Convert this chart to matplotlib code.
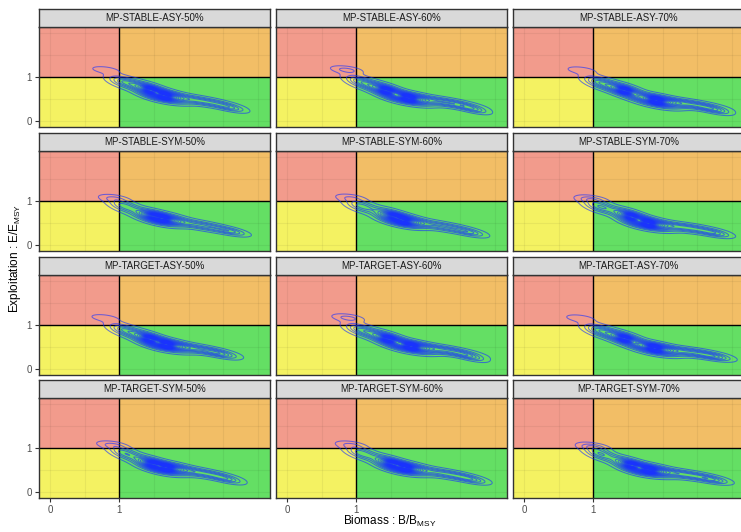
import numpy as np
import matplotlib
matplotlib.use("Agg")
import matplotlib.pyplot as plt

plt.rcParams['font.family'] = ['Liberation Sans', 'DejaVu Sans']
plt.rcParams['mathtext.fontset'] = 'custom'
plt.rcParams['mathtext.rm'] = 'Liberation Sans'
plt.rcParams['mathtext.it'] = 'Liberation Sans'

# facet labels, row by row
panels = ["MP-STABLE-ASY-50%", "MP-STABLE-ASY-60%", "MP-STABLE-ASY-70%",
          "MP-STABLE-SYM-50%", "MP-STABLE-SYM-60%", "MP-STABLE-SYM-70%",
          "MP-TARGET-ASY-50%", "MP-TARGET-ASY-60%", "MP-TARGET-ASY-70%",
          "MP-TARGET-SYM-50%", "MP-TARGET-SYM-60%", "MP-TARGET-SYM-70%"]

# ridge of the B/Bmsy - E/Emsy cloud for each MP: loop, head, two cores, mid, tail
loop_x = [0.80, 0.86, 0.83, 0.92, 0.92, 0.97, 0.79, 0.88, 0.81, 0.89, 0.92, 1.00]
loop_y = [1.16, 1.16, 1.15, 1.06, 1.07, 1.04, 1.16, 1.16, 1.15, 1.07, 1.07, 1.03]
loop_w = [0.10, 0.16, 0.10, 0.13, 0.13, 0.16, 0.10, 0.16, 0.10, 0.13, 0.13, 0.16]
head_x = [1.08, 1.08, 1.10, 1.08, 1.08, 1.10, 1.08, 1.08, 1.10, 1.08, 1.08, 1.10]
head_y = [0.88, 0.88, 0.87, 0.88, 0.88, 0.87, 0.88, 0.88, 0.87, 0.88, 0.88, 0.87]
core1_x = [1.45, 1.43, 1.45, 1.50, 1.55, 1.55, 1.44, 1.46, 1.45, 1.49, 1.52, 1.55]
core1_y = [0.70, 0.69, 0.69, 0.65, 0.64, 0.64, 0.68, 0.68, 0.69, 0.63, 0.64, 0.61]
core1_w = [0.90, 0.90, 0.85, 0.60, 0.80, 0.85, 0.90, 0.90, 0.85, 0.85, 0.80, 0.80]
core2_x = [1.65, 1.75, 1.91, 1.62, 1.67, 1.79, 1.68, 1.79, 1.88, 1.68, 1.70, 1.80]
core2_y = [0.57, 0.52, 0.46, 0.60, 0.56, 0.49, 0.55, 0.51, 0.47, 0.55, 0.55, 0.50]
mid_x = [2.20, 2.30, 2.40, 2.20, 2.25, 2.35, 2.15, 2.30, 2.40, 2.20, 2.30, 2.35]
mid_y = [0.45, 0.42, 0.38, 0.44, 0.42, 0.39, 0.45, 0.42, 0.38, 0.43, 0.41, 0.39]
tail_x = [2.58, 2.66, 2.73, 2.60, 2.62, 2.74, 2.46, 2.62, 2.74, 2.53, 2.64, 2.71]
tail_y = [0.31, 0.28, 0.26, 0.31, 0.29, 0.27, 0.34, 0.29, 0.28, 0.30, 0.29, 0.28]

node_w = [None, 0.40, None, 1.0, 0.45, 0.28]
node_along = [0.14, 0.16, 0.18, 0.20, 0.28, 0.15]
node_across = [0.05, 0.07, 0.07, 0.07, 0.055, 0.045]

# sharp modes sitting on the two cores
peak_w = [1.5, 1.8]
peak_along = 0.06
peak_across = 0.035

kobe_red = "#F29B8C"
kobe_orange = "#F2BE66"
kobe_yellow = "#F4F262"
kobe_green = "#64DF64"

W, H = 741, 532
fig = plt.figure(figsize=(W / 100, H / 100), dpi=100)
fig.patch.set_facecolor("white")

col_left = [39, 276, 513]
row_top = [27, 151, 275, 398]
pw, ph, sh = 231, 100, 18
xlim = (-0.158, 3.17)
ylim = (-0.136, 2.136)

gx = np.linspace(0.3, 3.3, 600)
gy = np.linspace(-0.2, 1.7, 450)
GX, GY = np.meshgrid(gx, gy)


def kernel(x0, y0, ang, sa, sc):
    c, s = np.cos(ang), np.sin(ang)
    u = (GX - x0) * c + (GY - y0) * s
    v = -(GX - x0) * s + (GY - y0) * c
    return np.exp(-0.5 * ((u / sa) ** 2 + (v / sc) ** 2))


def ridge_density(xs, ys, ws):
    z = np.zeros_like(GX)
    n = len(xs)
    for i in range(n):
        if i == 0:
            ang = -0.2
        else:
            j0, j1 = max(i - 1, 1), min(i + 1, n - 1)
            ang = np.arctan2(ys[j1] - ys[j0], xs[j1] - xs[j0])
        z += ws[i] * kernel(xs[i], ys[i], ang, node_along[i], node_across[i])
    return z


for k, name in enumerate(panels):
    r, c = divmod(k, 3)
    left = col_left[c]
    top = row_top[r]
    ax = fig.add_axes([left / W, 1 - (top + ph) / H, pw / W, ph / H])
    ax.set_xlim(*xlim)
    ax.set_ylim(*ylim)

    # kobe quadrants
    ax.fill_between([-1, 1], 1, 3, color=kobe_red, lw=0, zorder=0)
    ax.fill_between([1, 4], 1, 3, color=kobe_orange, lw=0, zorder=0)
    ax.fill_between([-1, 1], -1, 1, color=kobe_yellow, lw=0, zorder=0)
    ax.fill_between([1, 4], -1, 1, color=kobe_green, lw=0, zorder=0)

    for gxv in [0, 0.5, 1.5, 2, 2.5, 3]:
        ax.axvline(gxv, color="black", alpha=0.05, lw=0.8, zorder=1)
    for gyv in [0, 0.5, 1.5, 2]:
        ax.axhline(gyv, color="black", alpha=0.05, lw=0.8, zorder=1)

    ax.axvline(1, color="black", lw=1.0, zorder=2)
    ax.axhline(1, color="black", lw=1.0, zorder=2)

    xs = [loop_x[k], head_x[k], core1_x[k], core2_x[k], mid_x[k], tail_x[k]]
    ys = [loop_y[k], head_y[k], core1_y[k], core2_y[k], mid_y[k], tail_y[k]]
    ws = [loop_w[k], node_w[1], core1_w[k], node_w[3], node_w[4], node_w[5]]
    z = ridge_density(xs, ys, ws)
    core_ang = np.arctan2(core2_y[k] - core1_y[k], core2_x[k] - core1_x[k])
    z += peak_w[0] * core1_w[k] * kernel(core1_x[k], core1_y[k], core_ang,
                                         peak_along, peak_across)
    z += peak_w[1] * kernel(core2_x[k], core2_y[k], core_ang,
                            peak_along, peak_across)
    zmax = z.max()
    levels = np.linspace(0.013, 0.97, 34) * zmax
    ax.contour(GX, GY, z, levels=levels, colors="#1a33ff", linewidths=0.75,
               alpha=0.62, zorder=3)

    for sp in ax.spines.values():
        sp.set_color("#333333")
        sp.set_linewidth(1.0)
        sp.set_zorder(5)

    ax.set_xticks([0, 1])
    ax.set_yticks([0, 1])
    ax.tick_params(length=3, width=0.8, color="#333333", labelsize=7,
                   labelcolor="#4D4D4D", pad=2)
    if c != 0:
        ax.tick_params(axis="y", left=False, labelleft=False)
    if r != 3:
        ax.tick_params(axis="x", bottom=False, labelbottom=False)

    # facet strip
    sax = fig.add_axes([left / W, 1 - top / H, pw / W, sh / H])
    sax.set_facecolor("#D9D9D9")
    sax.set_xticks([])
    sax.set_yticks([])
    for sp in sax.spines.values():
        sp.set_color("#333333")
        sp.set_linewidth(1.0)
    sax.text(0.5, 0.5, name, ha="center", va="center", fontsize=7,
             color="#1A1A1A", transform=sax.transAxes)

fig.text(15 / W, 1 - 258 / H, "Exploitation : E/E$_{\\mathrm{MSY}}$", rotation=90,
         ha="center", va="center", fontsize=8.5, color="black")
fig.text(390 / W, 1 - 521 / H, "Biomass : B/B$_{\\mathrm{MSY}}$",
         ha="center", va="center", fontsize=8.5, color="black")

fig.savefig("out.png", dpi=100)
